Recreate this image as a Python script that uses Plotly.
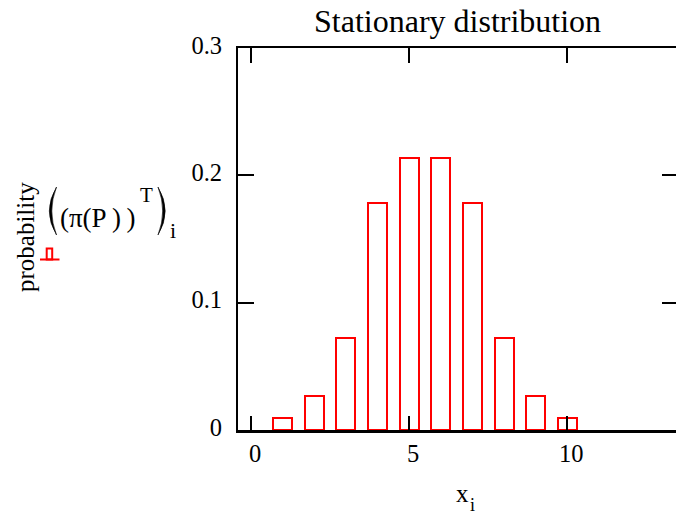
import plotly.graph_objects as go

# Stationary distribution of the chain, one bar per state index
states = [1, 2, 3, 4, 5, 6, 7, 8, 9, 10]
probability = [0.0098, 0.027, 0.072, 0.178, 0.214, 0.214, 0.178, 0.072, 0.027, 0.0098]

x_ticks = [0, 5, 10]
y_ticks = [0, 0.1, 0.2, 0.3]
y_tick_text = ["0", "0.1", "0.2", "0.3"]

W, H = 676, 517
L, R, T, B = 238, 0, 48, 87
PW, PH = W - L - R, H - T - B

SERIF = "Liberation Serif"
RED = "#ff0000"


def px(x):
    return (x - L) / PW


def py(y):
    return (H - B - y) / PH


fig = go.Figure()

fig.add_trace(go.Bar(
    x=states, y=probability, width=0.6,
    marker=dict(color="rgba(0,0,0,0)", line=dict(color=RED, width=2)),
    hoverinfo="x+y", showlegend=False,
))

# invisible copy on the overlaid axes, so the top and right frame ticks are drawn
fig.add_trace(go.Scatter(
    x=states, y=probability, xaxis="x2", yaxis="y2", mode="markers",
    marker=dict(opacity=0), hoverinfo="skip", showlegend=False,
))

x_range = [-0.411, 13.437]
y_range = [0, 0.3]

fig.update_layout(
    width=W, height=H,
    margin=dict(l=L, r=R, t=T, b=B, pad=0),
    paper_bgcolor="white", plot_bgcolor="white",
    font=dict(family=SERIF, color="black", size=24),
    bargap=0,
    xaxis=dict(
        range=x_range, tickvals=x_ticks, ticks="inside", ticklen=14, tickwidth=2,
        tickcolor="black", showline=True, linewidth=3, linecolor="black",
        showgrid=False, zeroline=False, tickfont=dict(size=24.5, family=SERIF),
        ticklabelstandoff=0, ticklabelshift=4, fixedrange=True,
    ),
    yaxis=dict(
        range=y_range, tickvals=y_ticks, ticktext=y_tick_text, ticks="inside",
        ticklen=16, tickwidth=2, tickcolor="black", showline=True, linewidth=2,
        linecolor="black", showgrid=False, zeroline=False,
        tickfont=dict(size=24.5, family=SERIF), ticklabelstandoff=9,
        ticklabelshift=-3, fixedrange=True,
    ),
    xaxis2=dict(
        overlaying="x", side="top", range=x_range, tickvals=x_ticks,
        ticks="inside", ticklen=15, tickwidth=2, tickcolor="black",
        showline=True, linewidth=2, linecolor="black", showticklabels=False,
        showgrid=False, zeroline=False, fixedrange=True,
    ),
    yaxis2=dict(
        overlaying="y", side="right", range=y_range, tickvals=y_ticks,
        ticks="inside", ticklen=14, tickwidth=2, tickcolor="black",
        showline=False, showticklabels=False, showgrid=False, zeroline=False,
        fixedrange=True,
    ),
)


def label(text, x, y, size, xanchor="center", yanchor="middle", angle=0):
    fig.add_annotation(
        text=text, x=px(x), y=py(y), xref="paper", yref="paper",
        xanchor=xanchor, yanchor=yanchor, showarrow=False, textangle=angle,
        font=dict(family=SERIF, size=size, color="black"),
    )


def big_paren(x_tip, x_mid_outer, x_mid_inner, y_top, y_bot):
    """Tall, thin bracket drawn as a filled crescent (pixel inputs)."""
    ym = (y_top + y_bot) / 2
    c_out = 2 * x_mid_outer - x_tip
    c_in = 2 * x_mid_inner - x_tip
    path = (f"M {px(x_tip)},{py(y_top)} "
            f"Q {px(c_out)},{py(ym)} {px(x_tip)},{py(y_bot)} "
            f"Q {px(c_in)},{py(ym)} {px(x_tip)},{py(y_top)} Z")
    fig.add_shape(type="path", xref="paper", yref="paper", path=path,
                  fillcolor="black", line=dict(color="black", width=0.6))


# title
label("Stationary distribution", 457.5, 21, 32)

# y-axis title with the trace legend entry
label("probability", 25, 237, 25, angle=-90)
big_paren(56.5, 49.3, 51.8, 187, 235)
label("(\u03c0(P\u2009)\u2009)", 58, 218, 27, xanchor="left")
label("T", 146, 195, 21)
big_paren(158, 165.2, 162.7, 187, 235)
label("i", 172.5, 230, 22)

# x-axis title
label("x", 462.5, 493, 25)
label("i", 472, 517, 18, yanchor="bottom")

# legend glyph for the bar trace
fig.add_shape(type="line", xref="paper", yref="paper",
              x0=px(40), x1=px(59.5), y0=py(259.5), y1=py(259.5),
              line=dict(color=RED, width=2))
fig.add_shape(type="rect", xref="paper", yref="paper",
              x0=px(46.7), x1=px(52.2), y0=py(259.5), y1=py(248.5),
              line=dict(color=RED, width=2), fillcolor="rgba(0,0,0,0)")

fig.write_html("out.html")
